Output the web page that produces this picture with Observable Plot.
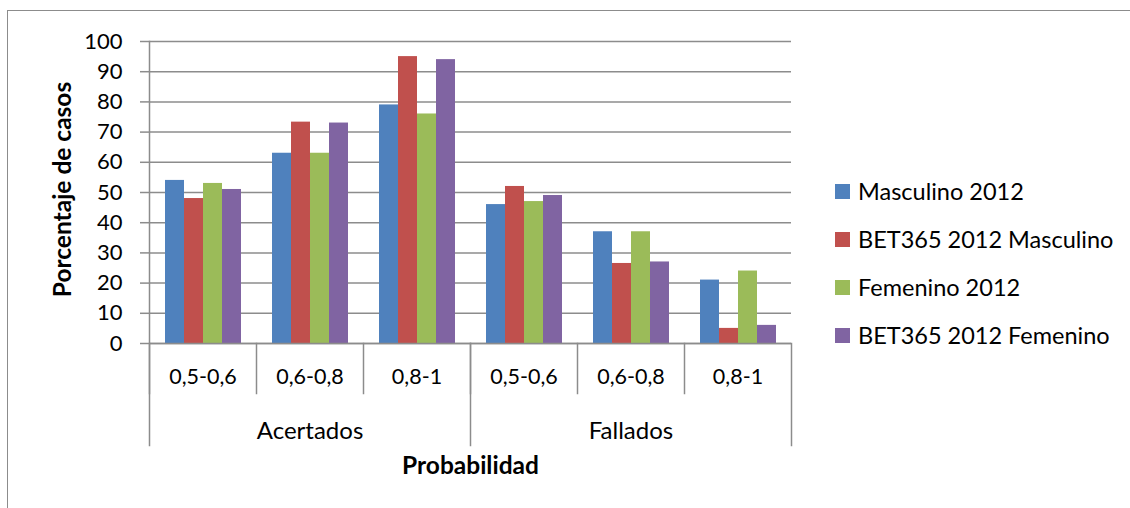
<!DOCTYPE html>
<html>
<head>
<meta charset="utf-8">
<script src="https://cdn.jsdelivr.net/npm/d3@7"></script>
<script src="https://cdn.jsdelivr.net/npm/@observablehq/plot@0.6"></script>
<style>
  body { margin: 0; background: #fff; }
  #wrap { position: relative; width: 1130px; height: 508px; overflow: hidden; font-family: Lato, "Noto Sans", sans-serif; }
  #chart { position: absolute; left: 0; top: 0; }
  #border { position: absolute; left: 7px; top: 10px; width: 1300px; height: 700px; border: 1.5px solid #8c8c8c; pointer-events: none; }
  #legend { position: absolute; left: 835px; top: 167px; }
  .row { display: flex; align-items: center; height: 48px; font-size: 23.5px; color: #000; white-space: nowrap; }
  .sw { width: 15px; height: 15px; margin-right: 8px; flex: none; }
</style>
</head>
<body>
<div id="wrap">
  <div id="chart"></div>
  <div id="border"></div>
  <div id="legend"></div>
</div>
<script>
// Outcome groups and probability ranges (x hierarchy)
const groups = ["Acertados", "Fallados"];
const ranges = ["0,5-0,6", "0,6-0,8", "0,8-1"];

// Series, in legend order
const series = ["Masculino 2012", "BET365 2012 Masculino", "Femenino 2012", "BET365 2012 Femenino"];
const colors = ["#4F81BD", "#C0504D", "#9BBB59", "#8064A2"];

// Percentage of cases per range: Acertados (3 ranges), then Fallados (3 ranges)
const masculino2012 = [54, 63, 79, 46, 37, 21];
const bet365Masculino = [48, 73.3, 95, 52, 26.5, 5];
const femenino2012 = [53, 63, 76, 47, 37, 24];
const bet365Femenino = [51, 73, 94, 49, 27, 6];

const yTicks = [0, 10, 20, 30, 40, 50, 60, 70, 80, 90, 100];

const yTitle = "Porcentaje de casos";
const xTitle = "Probabilidad";

// Build the long table
const cats = groups.flatMap(g => ranges.map(r => `${g}|${r}`));
const seriesValues = [masculino2012, bet365Masculino, femenino2012, bet365Femenino];
const data = series.flatMap((s, i) => cats.map((c, j) => ({cat: c, series: s, value: seriesValues[i][j]})));

// Layout
const W = 1130, H = 508;
const mL = 147, mR = 337, mT = 41, mB = 165;
const plotH = H - mT - mB;
const lineColor = "#8c8c8c";
const font = "Lato, 'Noto Sans', sans-serif";

const chart = Plot.plot({
  width: W,
  height: H,
  marginLeft: mL,
  marginRight: mR,
  marginTop: mT,
  marginBottom: mB,
  style: {fontFamily: font, fontSize: "21px", color: "#000", background: "none", overflow: "visible"},
  fx: {domain: cats, padding: 0, axis: null, label: null},
  x: {domain: series, paddingInner: 0, paddingOuter: 0.76, axis: null},
  y: {domain: [0, 100], axis: null},
  color: {domain: series, range: colors},
  marks: [
    Plot.gridY(yTicks, {stroke: lineColor, strokeOpacity: 1, strokeWidth: 1.5}),
    Plot.barY(data, {fx: "cat", x: "series", y: "value", fill: "series"}),
    Plot.ruleY([0], {stroke: lineColor, strokeWidth: 1.5}),
    Plot.axisY({
      ticks: yTicks, tickSize: 9, tickPadding: 18, stroke: lineColor, strokeWidth: 1.5,
      fill: "#000", label: null, fontSize: 22
    }),
    // vertical axis line, continuing down as the group divider
    Plot.frame({anchor: "left", fx: () => cats[0], insetBottom: -102, stroke: lineColor, strokeWidth: 1.5}),
    // dividers between probability ranges
    Plot.frame({anchor: "left", insetTop: plotH, insetBottom: -50, stroke: lineColor, strokeWidth: 1.5}),
    // group dividers
    Plot.frame({anchor: "left", fx: () => cats[3], insetTop: plotH, insetBottom: -102, stroke: lineColor, strokeWidth: 1.5}),
    Plot.frame({anchor: "right", fx: () => cats[5], insetTop: plotH, insetBottom: -102, stroke: lineColor, strokeWidth: 1.5}),
    // range labels
    Plot.text(cats, {fx: d => d, text: d => d.split("|")[1], frameAnchor: "bottom", dy: 34, lineAnchor: "middle", fill: "#000", fontSize: 21.5}),
    // group labels, centred under the middle range
    Plot.text(groups, {fx: g => `${g}|${ranges[1]}`, text: g => g, frameAnchor: "bottom", dy: 88, lineAnchor: "middle", fill: "#000", fontSize: 24}),
    // axis titles
    Plot.text([xTitle], {fx: () => cats[3], text: d => d, frameAnchor: "bottom-left", textAnchor: "middle", dy: 123, lineAnchor: "middle", fontWeight: "bold", fill: "#000", fontSize: 24.5}),
    Plot.text([yTitle], {fx: () => cats[0], text: d => d, frameAnchor: "left", rotate: -90, dx: -86, dy: -3, textAnchor: "middle", lineAnchor: "middle", fontWeight: "bold", fill: "#000", fontSize: 24.5})
  ]
});
document.getElementById("chart").append(chart);

// Legend
const legend = document.getElementById("legend");
series.forEach((s, i) => {
  const row = document.createElement("div");
  row.className = "row";
  const sw = document.createElement("span");
  sw.className = "sw";
  sw.style.background = colors[i];
  const label = document.createElement("span");
  label.textContent = s;
  row.append(sw, label);
  legend.append(row);
});
</script>
</body>
</html>
